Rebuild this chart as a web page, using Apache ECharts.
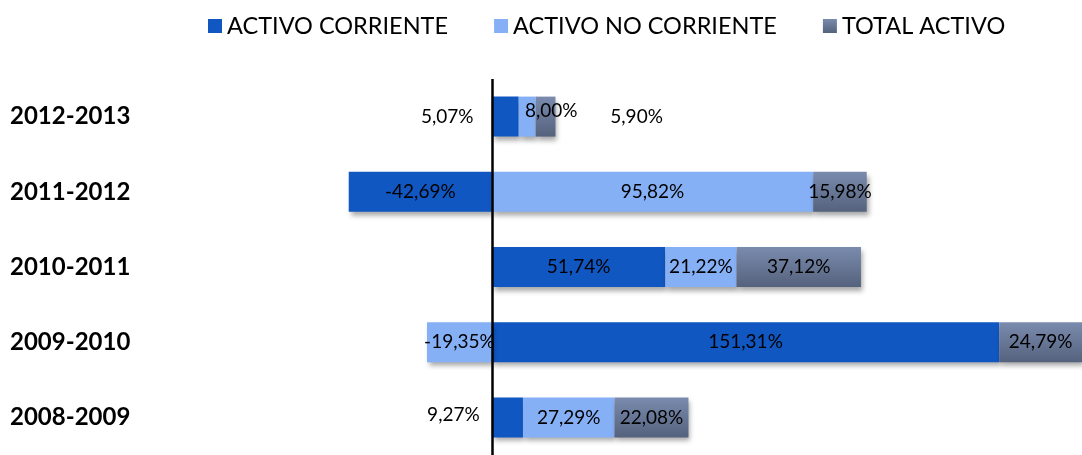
<!DOCTYPE html>
<html>
<head>
<meta charset="utf-8">
<script src="https://cdn.jsdelivr.net/npm/echarts@6/dist/echarts.min.js"></script>
<style>
  html, body { margin: 0; padding: 0; background: #fff; overflow: hidden; }
  #chart { width: 1082px; height: 455px; }
</style>
</head>
<body>
<div id="chart"></div>
<script>
// periods, bottom to top
const periods = ['2008-2009', '2009-2010', '2010-2011', '2011-2012', '2012-2013'];
const activoCorriente = [9.27, 151.31, 51.74, -42.69, 8.00];
const activoNoCorriente = [27.29, -19.35, 21.22, 95.82, 5.07];
const totalActivo = [22.08, 24.79, 37.12, 15.98, 5.90];

const FONT = 'Lato, "Open Sans", sans-serif';
const fmt = (p) => p.value.toFixed(2).replace('.', ',') + '%';

// labels that were moved off their bars in the original
const labelMoves = {
  'ACTIVO CORRIENTE': { 0: [-54, -3], 4: [46, -6] },
  'ACTIVO NO CORRIENTE': { 4: [-80, 0] },
  'TOTAL ACTIVO': { 4: [91, 0] }
};

const shadow = { shadowColor: 'rgba(0,0,0,0.35)', shadowBlur: 5, shadowOffsetX: 2, shadowOffsetY: 4 };

function makeSeries(name, values, color) {
  const moves = labelMoves[name] || {};
  return {
    name: name,
    type: 'bar',
    stack: 'total',
    barWidth: 40,
    itemStyle: Object.assign({ color: color }, shadow),
    label: { show: true, position: 'inside', color: '#000', fontSize: 19, fontFamily: FONT, formatter: fmt },
    data: values.map((v, i) => moves[i] ? { value: v, label: { offset: moves[i] } } : v)
  };
}

const taColor = new echarts.graphic.LinearGradient(0, 0, 0, 1, [
  { offset: 0, color: '#7A8BAE' },
  { offset: 1, color: '#55627D' }
]);

const chart = echarts.init(document.getElementById('chart'));
const seriesList = [
  makeSeries('ACTIVO CORRIENTE', activoCorriente, '#1157C2'),
  makeSeries('ACTIVO NO CORRIENTE', activoNoCorriente, '#86B0F5'),
  makeSeries('TOTAL ACTIVO', totalActivo, taColor)
];
seriesList[2].markLine = {
  silent: true,
  symbol: 'none',
  label: { show: false },
  lineStyle: { color: '#000', width: 2.5, type: 'solid' },
  data: [{ xAxis: 0 }]
};

chart.setOption({
  animation: false,
  legend: {
    top: 9,
    left: 203,
    icon: 'rect',
    itemWidth: 14,
    itemHeight: 14,
    itemGap: 46,
    textStyle: { fontSize: 23.5, fontFamily: FONT, color: '#000' }
  },
  grid: { left: 290.7, top: 79, width: 797.7, height: 382 },
  xAxis: { type: 'value', min: -60, max: 176, show: false },
  yAxis: {
    type: 'category',
    data: periods,
    axisLine: { show: false },
    axisTick: { show: false },
    axisLabel: { align: 'left', margin: 280.7, fontSize: 24, fontWeight: 'bold', fontFamily: FONT, color: '#000' }
  },
  series: seriesList
});
</script>
</body>
</html>
